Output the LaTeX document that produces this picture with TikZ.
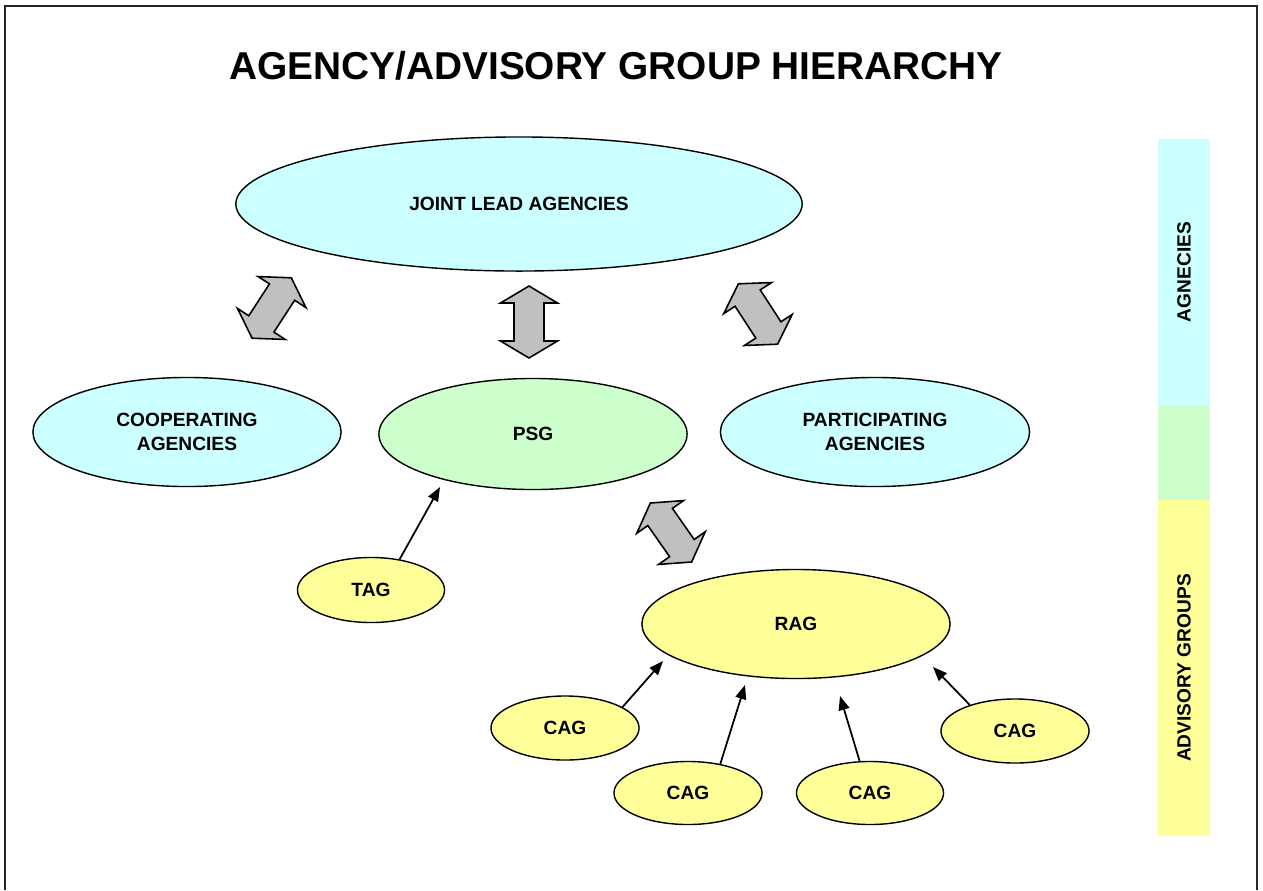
\documentclass[tikz,border=0pt]{standalone}
\usepackage{fontspec}
\setmainfont{Liberation Sans}
\usetikzlibrary{arrows.meta,shapes.geometric}
\definecolor{cyanfill}{HTML}{CCFFFF}
\definecolor{greenfill}{HTML}{CCFFCC}
\definecolor{yellowfill}{HTML}{FFFF99}
\definecolor{arrowgray}{HTML}{C0C0C0}
\begin{document}
\begin{tikzpicture}[x=0.01cm,y=-0.01cm,
  oval/.style={ellipse,draw=black,line width=0.4pt,inner sep=0pt,
    font=\fontsize{5.45}{6.8}\selectfont\bfseries,align=center},
  bigoval/.style={oval,minimum width=3.08cm,minimum height=1.09cm},
  smalloval/.style={oval,fill=yellowfill,minimum width=1.48cm,minimum height=0.64cm},
  thinarrow/.style={line width=0.5pt,-{Triangle[length=4pt,width=3.1pt]}},
  barbox/.style={rectangle,rotate=90,inner sep=0pt,minimum height=0.52cm,
    font=\fontsize{5.45}{6.8}\selectfont\bfseries},
  dblarrow/.pic={\draw[fill=arrowgray,line width=0.45pt,line join=miter]
    (36,0) -- (19,28.5) -- (19,15) -- (-19,15) -- (-19,28.5) -- (-36,0)
    -- (-19,-28.5) -- (-19,-15) -- (19,-15) -- (19,-28.5) -- cycle;}
]
\useasboundingbox (0,0) rectangle (1263,890);
% frame
\draw[line width=0.5pt,black!85] (5,890) -- (5,6) -- (1257,6) -- (1257,890);
% title
\node[font=\fontsize{11.05}{13}\selectfont\bfseries,anchor=base] (title) at (616,79)
  {AGENCY/ADVISORY GROUP HIERARCHY};
% ellipses
\node[oval,fill=cyanfill,minimum width=5.66cm,minimum height=1.34cm] (jla) at (519,204) {JOINT LEAD AGENCIES};
\node[bigoval,fill=cyanfill] (coop) at (187,432) {COOPERATING\\AGENCIES};
\node[bigoval,fill=greenfill,minimum height=1.11cm] (psg) at (533,434) {PSG};
\node[bigoval,fill=cyanfill,minimum width=3.09cm] (part) at (875,432) {PARTICIPATING\\AGENCIES};
\node[smalloval,minimum width=1.47cm,minimum height=0.65cm] (tag) at (371,590) {TAG};
\node[bigoval,fill=yellowfill] (rag) at (796,624) {RAG};
\node[smalloval] (cag1) at (565,728) {CAG};
\node[smalloval,minimum height=0.63cm] (cag2) at (688,793) {CAG};
\node[smalloval,minimum width=1.47cm,minimum height=0.63cm] (cag3) at (870,793) {CAG};
\node[smalloval] (cag4) at (1015,731) {CAG};
% block double arrows
\pic (arrL) [rotate=57] at (271.7,308) {dblarrow};
\pic (arrM) [rotate=90] at (529,322) {dblarrow};
\pic (arrR) [rotate=-57] at (758,314) {dblarrow};
\pic (arrB) [rotate=-55] at (671,532.5) {dblarrow};
% thin arrows
\coordinate (tagtip) at (440,487);
\coordinate (c1tip) at (663,661);
\coordinate (c2tip) at (745,685);
\coordinate (c3tip) at (840,696);
\coordinate (c4tip) at (933,667);
\draw[thinarrow] (tag.47) -- (tagtip);
\draw[thinarrow] (cag1.20) -- (c1tip);
\draw[thinarrow] (cag2.42) -- (c2tip);
\draw[thinarrow] (cag3.108) -- (c3tip);
\draw[thinarrow] (cag4.150) -- (c4tip);
% side bar
\node[barbox,fill=cyanfill,minimum width=2.66cm] (barA) at (1184,272) {AGNECIES};
\node[barbox,fill=greenfill,minimum width=0.95cm] (barP) at (1184,452.5) {};
\node[barbox,fill=yellowfill,minimum width=3.36cm] (barG) at (1184,668) {ADVISORY GROUPS};
\end{tikzpicture}
\end{document}
